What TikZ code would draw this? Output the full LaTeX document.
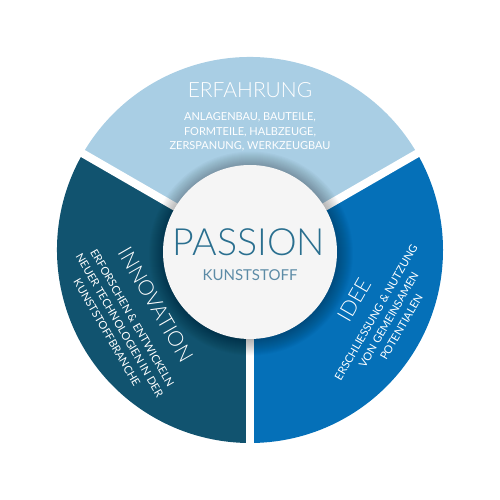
\documentclass[tikz,border=0pt]{standalone}
\usepackage{fontspec}
\usetikzlibrary{calc}
\setmainfont{Lato}
\newfontfamily\latolight{Lato Light}
\definecolor{lightseg}{HTML}{A9CEE4}
\definecolor{rightseg}{HTML}{0570B8}
\definecolor{leftseg}{HTML}{11536F}
\definecolor{centerfill}{HTML}{F5F5F5}
\definecolor{passioncol}{HTML}{2A6F8F}
\definecolor{kunstcol}{HTML}{5C8BA6}
\tikzset{
  titletext/.style={text=white, font=\latolight\fontsize{21}{23}\selectfont, inner sep=0pt},
  bodytext/.style={text=white, font=\fontsize{11}{14.6}\selectfont, align=center, inner sep=0pt},
  gapline/.style={white, line width=8pt}
}
\begin{document}
\begin{tikzpicture}[x=1pt,y=1pt]
\useasboundingbox (0,0) rectangle (500,500);
\coordinate (O) at (250,250);
\coordinate (I) at (250,248);
% segments
\fill[lightseg] (O) -- ++(30:193) arc[start angle=30,end angle=150,radius=193] -- cycle;
\fill[leftseg] (O) -- ++(150:193) arc[start angle=150,end angle=270,radius=193] -- cycle;
\fill[rightseg] (O) -- ++(270:193) arc[start angle=270,end angle=390,radius=193] -- cycle;
% gaps
\coordinate (g1) at ($(O)+(30:200)$);
\coordinate (g2) at ($(O)+(150:200)$);
\coordinate (g3) at ($(O)+(270:200)$);
\draw[gapline] (O) -- (g1);
\draw[gapline] (O) -- (g2);
\draw[gapline] (O) -- (g3);
% shadow
\foreach \r in {87,88,...,102}{
  \fill[black, opacity=0.018] ($(I)+(1,-1.5)$) circle[radius=\r];
}
% center circle
\node[circle, fill=centerfill, minimum size=174pt, inner sep=0pt] (center) at (I) {};
\node[text=passioncol, font=\latolight\fontsize{37.5}{40}\selectfont, inner sep=0pt] (passion) at (249,257.5) {PASSION};
\node[text=kunstcol, font=\fontsize{15}{17}\selectfont, inner sep=0pt] (kunst) at (250,225) {KUNSTSTOFF};
% top
\node[titletext] (erf) at (250,410) {ERFAHRUNG};
\node[bodytext] (erfb) at (250,368) {ANLAGENBAU, BAUTEILE,\\FORMTEILE, HALBZEUGE,\\ZERSPANUNG, WERKZEUGBAU};
% left
\node[titletext, rotate=-60] (inno) at ($(O)+(210:109)$) {INNOVATION};
\node[bodytext, rotate=-60] (innob) at ($(O)+(210:150.5)$) {ERFORSCHEN \& ENTWICKELN\\NEUER TECHNOLOGIEN IN DER\\KUNSTSTOFFBRANCHE};
% right
\node[titletext, rotate=60] (idee) at ($(O)+(330:115)+(60:9)$) {IDEE};
\node[bodytext, rotate=60] (ideeb) at ($(O)+(330:155)+(60:9)$) {ERSCHLIESSUNG \& NUTZUNG\\VON GEMEINSAMEN\\POTENTIALEN};
\end{tikzpicture}
\end{document}
